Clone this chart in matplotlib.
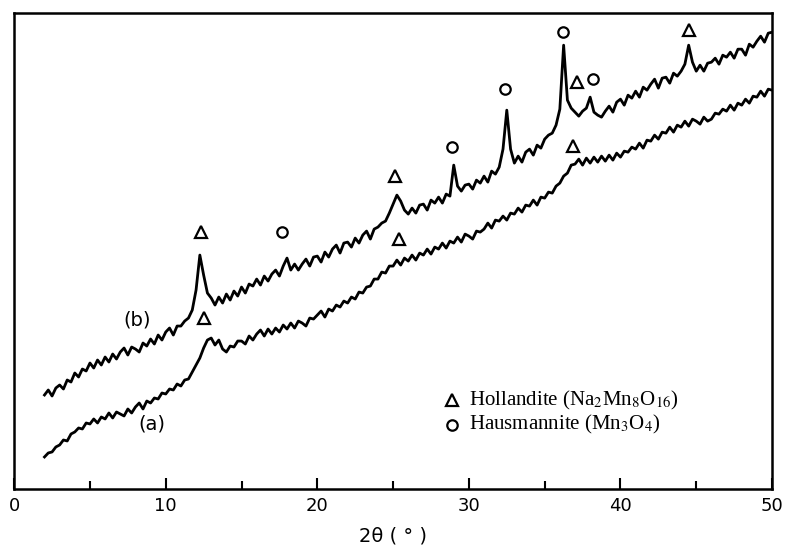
# XRD patterns (a) and (b)
import numpy as np
import matplotlib
matplotlib.use("Agg")
import matplotlib.pyplot as plt

plt.rcParams["mathtext.fontset"] = "stix"

# 2-theta grid, 0.25 deg steps from 2 to 50
two_theta = np.linspace(2, 50, 193)

# intensity (arbitrary units), 4 readings per degree
intensity_b = [
    94, 99, 93, 101,   104, 100, 109, 107,   116, 112, 120, 118,   126, 121, 129, 124,
    132, 127, 135, 130,   137, 141, 134, 142,   140, 137, 146, 143,   150, 145, 154, 149,
    157, 161, 154, 163,   163, 168, 171, 179,   199, 234, 214, 196,   191, 184, 192, 186,
    195, 189, 198, 193,   202, 196, 205, 203,   210, 204, 213, 208,   215, 219, 213, 223,
    231, 219, 225, 219,   225, 230, 223, 232,   233, 227, 237, 232,   240, 244, 236, 246,
    247, 242, 251, 246,   254, 258, 250, 260,   262, 266, 268, 276,   285, 294, 288, 279,
    275, 281, 276, 284,   285, 279, 289, 286,   292, 286, 295, 293,   324, 303, 298, 304,
    305, 300, 309, 306,   313, 307, 318, 315,   322, 340, 379, 340,   326, 333, 327, 337,
    340, 334, 344, 341,   350, 354, 356, 364,   380, 444, 389, 381,   377, 373, 378, 381,
    392, 377, 374, 372,   378, 383, 377, 387,   390, 384, 394, 391,   398, 392, 402, 399,
    405, 410, 401, 411,   412, 406, 416, 413,   418, 425, 444, 427,   418, 424, 418, 426,
    427, 431, 425, 434,   432, 437, 431, 440,   440, 434, 445, 442,   448, 453, 447, 456,
    457,
]

intensity_a = [
    32, 36, 37, 42,   44, 49, 48, 55,   57, 61, 60, 66,   65, 70, 66, 72,
    70, 76, 71, 77,   75, 73, 80, 76,   82, 86, 80, 88,   86, 91, 90, 96,
    95, 100, 99, 105,   103, 109, 110, 117,   124, 131, 141, 149,   151, 144, 149, 140,
    137, 143, 142, 148,   148, 145, 153, 149,   155, 159, 153, 160,   155, 161, 157, 164,
    160, 166, 161, 168,   166, 163, 171, 170,   174, 178, 172, 180,   178, 184, 182, 188,
    186, 192, 190, 197,   196, 202, 203, 210,   210, 217, 216, 223,   223, 229, 224, 231,
    228, 234, 229, 236,   234, 240, 235, 242,   240, 246, 241, 248,   246, 252, 247, 255,
    253, 250, 258, 257,   260, 266, 261, 269,   268, 273, 269, 276,   275, 281, 277, 284,
    283, 289, 284, 292,   291, 297, 296, 303,   306, 313, 316, 324,   325, 330, 324, 331,
    326, 332, 327, 333,   328, 334, 329, 336,   332, 338, 337, 342,   340, 346, 341, 349,
    348, 354, 350, 357,   356, 362, 357, 364,   362, 368, 363, 370,   368, 365, 372, 368,
    370, 376, 375, 380,   378, 384, 379, 386,   384, 390, 386, 393,   392, 398, 393, 400,
    399,
]

# peak markers: hollandite (triangle) and hausmannite (circle)
holl_x = [12.3, 25.1, 37.1, 44.5, 12.5, 25.4, 36.9]
holl_y = [257, 313, 407, 459, 171, 250, 343]
haus_x = [17.7, 28.9, 32.4, 36.2, 38.2]
haus_y = [257, 342, 400, 457, 410]

fig = plt.figure(figsize=(7.87, 5.5), dpi=100)
ax = fig.add_axes([0.018, 0.111, 0.963, 0.865])

ax.plot(two_theta, intensity_b, color="k", lw=2.0)
ax.plot(two_theta, intensity_a, color="k", lw=2.0)

ax.plot(holl_x, holl_y, ls="none", marker="^", ms=8, mfc="white", mec="k", mew=1.6)
ax.plot(haus_x, haus_y, ls="none", marker="o", ms=7.5, mfc="white", mec="k", mew=1.6)

ax.text(8.1, 169, "(b)", fontsize=14, ha="center", va="center")
ax.text(9.1, 65, "(a)", fontsize=14, ha="center", va="center")

# legend drawn by hand as in the original
ax.plot([28.9], [89], ls="none", marker="^", ms=8, mfc="white", mec="k", mew=1.6)
ax.plot([28.9], [64], ls="none", marker="o", ms=7.5, mfc="white", mec="k", mew=1.6)
ax.text(30.0, 89, "Hollandite (Na$_2$Mn$_8$O$_{16}$)", fontsize=15,
        family="Liberation Serif", va="center")
ax.text(30.0, 64, "Hausmannite (Mn$_3$O$_4$)", fontsize=15,
        family="Liberation Serif", va="center")

ax.set_xlim(0, 50)
ax.set_ylim(0, 476)
ax.set_xticks(range(0, 51, 10))
ax.set_xticks(range(5, 50, 10), minor=True)
ax.tick_params(axis="x", which="major", direction="in", length=8, width=1.5,
               labelsize=13, pad=6)
ax.tick_params(axis="x", which="minor", direction="in", length=6, width=1.5)
ax.set_yticks([])
for s in ax.spines.values():
    s.set_linewidth(1.8)
ax.set_xlabel("2θ ( ° )", fontsize=14, labelpad=8)

plt.savefig("out.png", dpi=100)
